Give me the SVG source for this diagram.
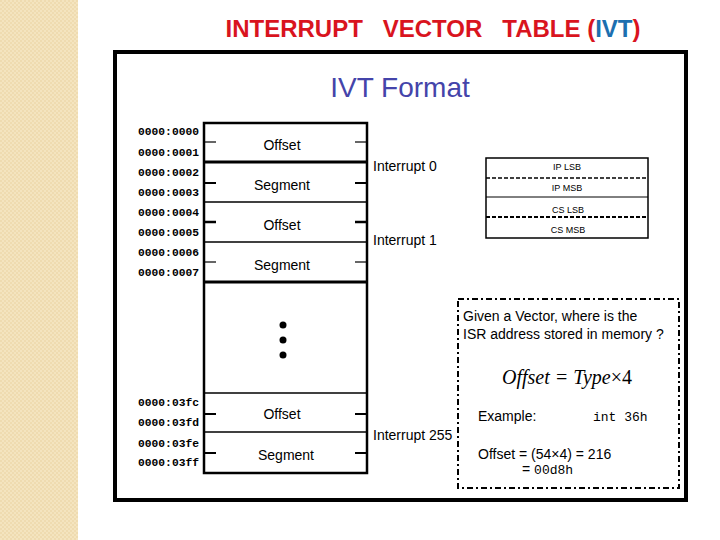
<svg xmlns="http://www.w3.org/2000/svg" width="720" height="540" viewBox="0 0 720 540">
<defs>
<pattern id="chk" width="4" height="4" patternUnits="userSpaceOnUse">
<rect width="4" height="4" fill="#f4e4bf"/>
<rect width="2" height="2" fill="#efdbb0"/>
<rect x="2" y="2" width="2" height="2" fill="#efdbb0"/>
</pattern>
<style>
.addr{font-family:"Liberation Mono",monospace;font-weight:bold;font-size:11.3px;fill:#000}
.cell{font-family:"Liberation Sans",Arial,sans-serif;font-size:14px;fill:#000;text-anchor:middle}
.lbl{font-family:"Liberation Sans",Arial,sans-serif;font-size:14px;fill:#000}
.small{font-family:"Liberation Sans",Arial,sans-serif;font-size:9px;fill:#000;text-anchor:middle}
.mono{font-family:"Liberation Mono",monospace;font-size:13px;fill:#000}
.tick{stroke:#000;stroke-width:2}
</style>
</defs>
<rect width="720" height="540" fill="#fff"/>
<rect x="0" y="0" width="78" height="540" fill="url(#chk)"/>
<text x="433" y="37" text-anchor="middle" font-family="Liberation Sans,Arial,sans-serif" font-size="24" font-weight="bold" fill="#d9141e" textLength="415" lengthAdjust="spacingAndGlyphs" xml:space="preserve">INTERRUPT   VECTOR   TABLE (<tspan fill="#1c6fb0">IVT</tspan>)</text>
<rect x="115" y="52" width="571" height="448" fill="#fff" stroke="#000" stroke-width="4"/>
<text x="400" y="97" text-anchor="middle" font-family="Liberation Sans,Arial,sans-serif" font-size="28" fill="#4444aa">IVT Format</text>

<g id="addresses">
<text class="addr" x="138" y="135">0000:0000</text>
<text class="addr" x="138" y="156">0000:0001</text>
<text class="addr" x="138" y="176">0000:0002</text>
<text class="addr" x="138" y="196">0000:0003</text>
<text class="addr" x="138" y="216">0000:0004</text>
<text class="addr" x="138" y="236">0000:0005</text>
<text class="addr" x="138" y="256">0000:0006</text>
<text class="addr" x="138" y="276">0000:0007</text>
<text class="addr" x="138" y="406">0000:03fc</text>
<text class="addr" x="138" y="426">0000:03fd</text>
<text class="addr" x="138" y="447">0000:03fe</text>
<text class="addr" x="138" y="466">0000:03ff</text>
</g>

<g id="ivt-table">
<rect x="204" y="123" width="163" height="350" fill="#fff" stroke="#000" stroke-width="2.5"/>
<line x1="204" y1="162" x2="367" y2="162" stroke="#000" stroke-width="3"/>
<line x1="204" y1="202" x2="367" y2="202" stroke="#000" stroke-width="1.5"/>
<line x1="204" y1="242" x2="367" y2="242" stroke="#000" stroke-width="1.5"/>
<line x1="204" y1="282" x2="367" y2="282" stroke="#000" stroke-width="3"/>
<line x1="204" y1="393" x2="367" y2="393" stroke="#000" stroke-width="1.5"/>
<line x1="204" y1="432" x2="367" y2="432" stroke="#000" stroke-width="1.5"/>
<g class="tick">
<line x1="204" y1="142" x2="216" y2="142" stroke-width="1.2"/>
<line x1="355" y1="142" x2="367" y2="142" stroke-width="1.2"/>
<line x1="204" y1="183" x2="216" y2="183"/>
<line x1="355" y1="183" x2="367" y2="183"/>
<line x1="204" y1="222" x2="216" y2="222" stroke-width="2.5"/>
<line x1="355" y1="222" x2="367" y2="222" stroke-width="2.5"/>
<line x1="204" y1="262" x2="216" y2="262" stroke-width="1.2"/>
<line x1="355" y1="262" x2="367" y2="262" stroke-width="1.2"/>
<line x1="204" y1="414" x2="216" y2="414"/>
<line x1="355" y1="414" x2="367" y2="414"/>
<line x1="204" y1="453" x2="216" y2="453"/>
<line x1="355" y1="453" x2="367" y2="453"/>
</g>
<text class="cell" x="282" y="150">Offset</text>
<text class="cell" x="282" y="190">Segment</text>
<text class="cell" x="282" y="230">Offset</text>
<text class="cell" x="282" y="270">Segment</text>
<text class="cell" x="282" y="419">Offset</text>
<text class="cell" x="286" y="460">Segment</text>
<circle cx="283" cy="325" r="3.5" fill="#000"/>
<circle cx="283" cy="340" r="3.5" fill="#000"/>
<circle cx="283" cy="355" r="3.5" fill="#000"/>
</g>

<g id="interrupt-labels">
<text class="lbl" x="373" y="171">Interrupt 0</text>
<text class="lbl" x="373" y="245">Interrupt 1</text>
<text class="lbl" x="373" y="440">Interrupt 255</text>
</g>

<g id="byte-table">
<rect x="486" y="158" width="162" height="80" fill="#fff" stroke="#000" stroke-width="1.5"/>
<line x1="486" y1="178" x2="648" y2="178" stroke="#000" stroke-width="1.5" stroke-dasharray="4,2"/>
<line x1="486" y1="197" x2="648" y2="197" stroke="#000" stroke-width="1"/>
<line x1="486" y1="217" x2="648" y2="217" stroke="#000" stroke-width="2" stroke-dasharray="4,2"/>
<text class="small" x="567" y="170">IP LSB</text>
<text class="small" x="567" y="191">IP MSB</text>
<text class="small" x="568" y="213">CS LSB</text>
<text class="small" x="568" y="233">CS MSB</text>
</g>

<g id="example-box">
<rect x="458" y="299" width="221" height="189" fill="#fff" stroke="#000" stroke-width="2" stroke-dasharray="6,3,2,3"/>
<text class="lbl" x="463" y="321">Given a Vector, where is the</text>
<text class="lbl" x="463" y="339">ISR address stored in memory ?</text>
<text x="502" y="384" font-family="Liberation Serif,serif" font-size="20" font-style="italic" fill="#000">Offset = Type<tspan font-style="normal">×4</tspan></text>
<text class="lbl" x="478" y="421">Example:</text>
<text class="mono" x="593" y="421">int 36h</text>
<text class="lbl" x="478" y="459">Offset = (54×4) = 216</text>
<text class="lbl" x="522" y="474">= <tspan class="mono">00d8h</tspan></text>
</g>
</svg>
